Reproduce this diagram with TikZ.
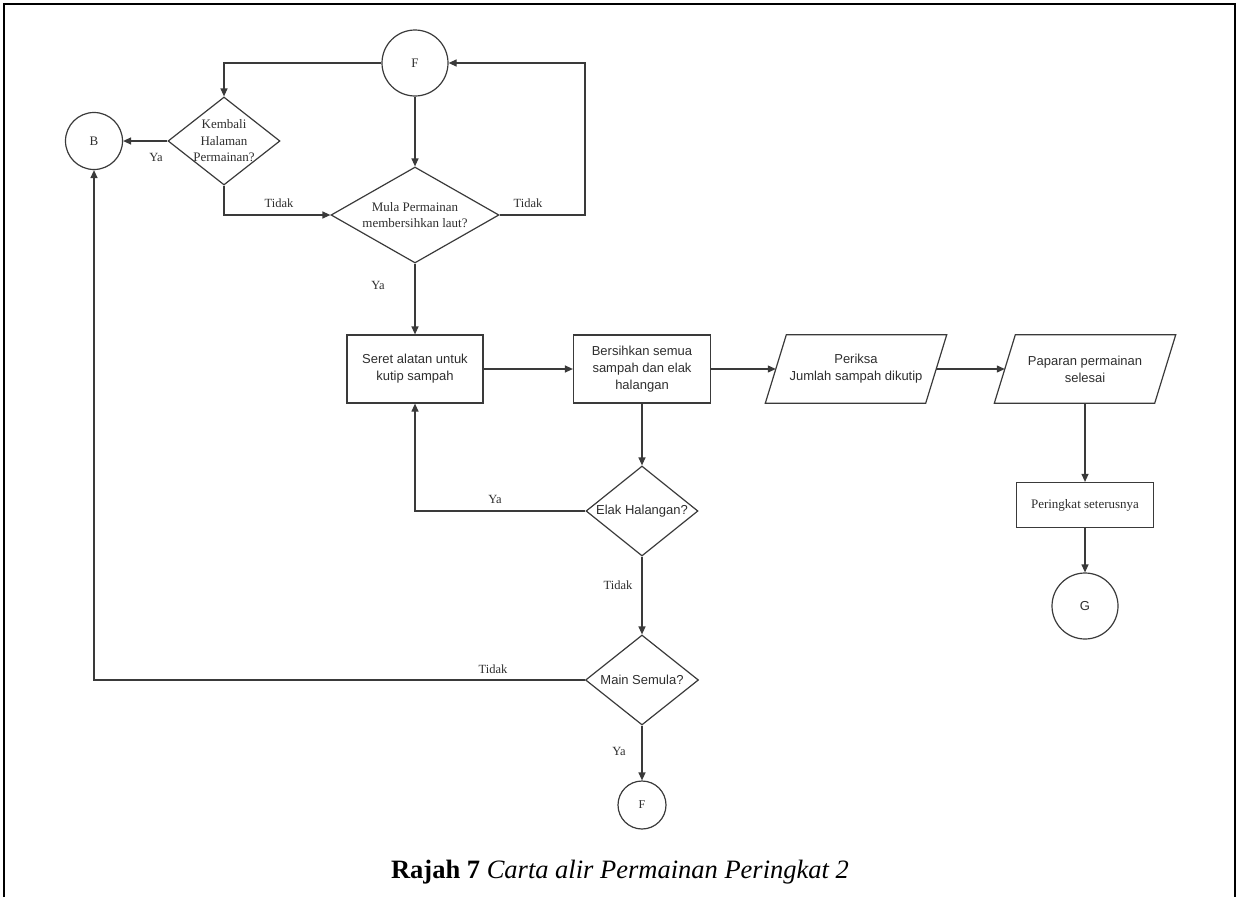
\documentclass[tikz,border=0pt]{standalone}
\usepackage{fontspec}
\setmainfont{Liberation Serif}
\newfontfamily\arialf{Liberation Sans}
\usetikzlibrary{shapes.geometric,arrows.meta,calc}

\definecolor{ink}{HTML}{3A3A3A}
\definecolor{txt}{HTML}{2E2E2E}

\tikzset{
  base/.style={draw=ink, line width=1.2pt, inner sep=0pt, text=txt},
  boxnode/.style={base, rectangle, minimum width=136pt, minimum height=68pt,
    align=center, font=\arialf\fontsize{13}{17}\selectfont},
  decision/.style={base, diamond},
  % mid-line box of a parallelogram; the slanted outline is drawn separately
  inoutcore/.style={rectangle, inner sep=0pt, minimum width=160pt, minimum height=68pt,
    align=center, text=txt, font=\arialf\fontsize{13}{17}\selectfont},
  conn/.style={base, circle},
  sertext/.style={align=center, text=txt, font=\fontsize{13}{16.5}\selectfont},
  santext/.style={align=center, text=txt, font=\arialf\fontsize{13}{17}\selectfont},
  arr/.style={draw=ink, line width=1.2pt, -{Triangle[length=8pt,width=7pt]}},
  lbl/.style={text=txt, font=\fontsize{12.5}{14}\selectfont, inner sep=0pt},
}

\newcommand{\slantbox}[1]{%
  \draw[draw=ink, line width=1.2pt]
    ($(#1.north west)+(10.5,0)$) -- ($(#1.north east)+(10.5,0)$) --
    ($(#1.south east)+(-10.5,0)$) -- ($(#1.south west)+(-10.5,0)$) -- cycle;}

\begin{document}
\begin{tikzpicture}[x=1pt,y=-1pt]
\useasboundingbox (0,0) rectangle (1236,897);

% page frame (open at the bottom)
\draw[black, line width=2pt] (3.5,897) -- (3.5,4) -- (1235,4) -- (1235,897);

% connectors (circles)
\node[conn, minimum size=66pt, font=\fontsize{13}{15}\selectfont] (Ftop) at (415,63) {F};
\node[conn, minimum size=57pt, font=\fontsize{13}{15}\selectfont] (B) at (94,141) {B};
\node[conn, minimum size=66pt, font=\arialf\fontsize{13}{15}\selectfont] (G) at (1085,606) {G};
\node[conn, minimum size=48pt, font=\fontsize{12}{14}\selectfont] (Fbot) at (642,805) {F};

% decisions
\node[decision, minimum width=112pt, minimum height=88pt,
      label={[sertext]center:Kembali\\Halaman\\Permainan?}] (Kem) at (224,141) {};
\node[decision, minimum width=168pt, minimum height=96pt,
      label={[sertext]center:Mula Permainan\\membersihkan laut?}] (Mula) at (415,215) {};
\node[decision, minimum width=112pt, minimum height=90pt,
      label={[santext]center:Elak Halangan?}] (Elak) at (642,511) {};
\node[decision, minimum width=113pt, minimum height=90pt,
      label={[santext]center:Main Semula?}] (Main) at (642,680) {};

% processes
\node[boxnode] (Seret) at (415,369) {Seret alatan untuk\\kutip sampah};
\node[boxnode, minimum width=137pt] (Bersih) at (642,369) {Bersihkan semua\\sampah dan elak\\halangan};
\node[boxnode, minimum width=137pt, minimum height=45pt, font=\fontsize{13}{16}\selectfont] (Tingkat) at (1085,505) {Peringkat seterusnya};

% input / output
\node[inoutcore] (Periksa) at (856,369) {Periksa\\Jumlah sampah dikutip};
\node[inoutcore] (Paparan) at (1085,369) {Paparan permainan\\selesai};
\slantbox{Periksa}
\slantbox{Paparan}

% flow
\draw[arr] (Ftop.west) -| (Kem.north);
\draw[arr] (Ftop.south) -- (Mula.north);
\draw[arr] (Kem.west) -- (B.east);
\draw[arr] (Kem.south) |- (Mula.west);
\coordinate (loopR) at (585,215);
\draw[arr] (Mula.east) -- (loopR) |- (Ftop.east);
\draw[arr] (Mula.south) -- (Seret.north);
\draw[arr] (Seret.east) -- (Bersih.west);
\draw[arr] (Bersih.east) -- (Periksa.west);
\draw[arr] (Periksa.east) -- (Paparan.west);
\draw[arr] (Paparan.south) -- (Tingkat.north);
\draw[arr] (Tingkat.south) -- (G.north);
\draw[arr] (Bersih.south) -- (Elak.north);
\draw[arr] (Elak.west) -| (Seret.south);
\draw[arr] (Elak.south) -- (Main.north);
\draw[arr] (Main.west) -| (B.south);
\draw[arr] (Main.south) -- (Fbot.north);

% branch labels
\node[lbl] (yaKem) at (156,157) {Ya};
\node[lbl] (tdKem) at (279,203) {Tidak};
\node[lbl] (tdMula) at (528,203) {Tidak};
\node[lbl] (yaMula) at (378,285) {Ya};
\node[lbl] (yaElak) at (495,499) {Ya};
\node[lbl] (tdElak) at (618,585) {Tidak};
\node[lbl] (tdMain) at (493,669) {Tidak};
\node[lbl] (yaMain) at (619,751) {Ya};

% caption
\node[text=black, font=\fontsize{26.5}{30}\selectfont, inner sep=0pt] (cap) at (620,872)
  {\textbf{Rajah 7} \textit{Carta alir Permainan Peringkat 2}};
\end{tikzpicture}
\end{document}
